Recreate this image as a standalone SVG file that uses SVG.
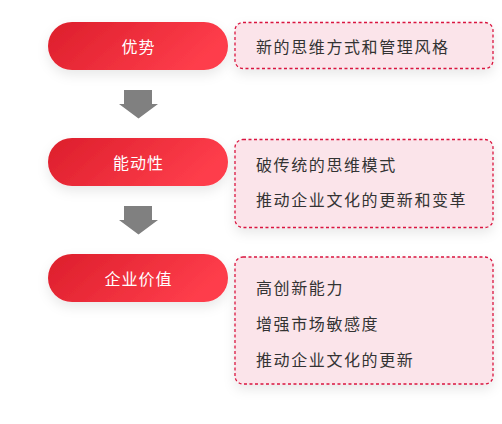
<svg xmlns="http://www.w3.org/2000/svg" width="502" height="424" viewBox="0 0 502 424">
<defs>
<linearGradient id="pillGrad" x1="0" y1="0" x2="1" y2="0.3">
<stop offset="0" stop-color="#dc1e2b"/>
<stop offset="1" stop-color="#fe3d4b"/>
</linearGradient>
<filter id="shadow" x="-20%" y="-40%" width="140%" height="200%">
<feDropShadow dx="0" dy="5" stdDeviation="6" flood-color="#000" flood-opacity="0.09"/>
</filter>
<style>
.pill{fill:url(#pillGrad);filter:url(#shadow);}
.pilltext{fill:#ffffff;font-family:"Noto Sans CJK SC","Noto Sans",sans-serif;font-size:16px;letter-spacing:1px;text-anchor:middle;dominant-baseline:central;}
.box{fill:#fbe4ea;stroke:#d9163f;stroke-width:1.3;stroke-dasharray:3 2.5;filter:url(#shadow);}
.boxtext{fill:#333333;font-family:"Noto Sans CJK SC","Noto Sans",sans-serif;font-size:16px;letter-spacing:1.6px;dominant-baseline:central;}
.arrow{fill:#808080;}
</style>
</defs>
<g id="connectors">
<path class="arrow" d="M124,90 H152 V104 H158 L138.5,118.5 L119,104 H124 Z"/>
<path class="arrow" d="M124,206 H152 V220 H158 L138.5,234.5 L119,220 H124 Z"/>
</g>
<g id="node-youshi">
<rect class="pill" x="48" y="22" width="180" height="48" rx="24"/>
<text class="pilltext" x="138.5" y="46">优势</text>
</g>
<g id="node-youshi-detail">
<rect class="box" x="235" y="22.5" width="258" height="46" rx="8"/>
<text class="boxtext" x="256" y="46">新的思维方式和管理风格</text>
</g>
<g id="node-nengdongxing">
<rect class="pill" x="48" y="138" width="180" height="48" rx="24"/>
<text class="pilltext" x="138.5" y="162">能动性</text>
</g>
<g id="node-nengdongxing-detail">
<rect class="box" x="235" y="139.5" width="258" height="88" rx="8"/>
<text class="boxtext" x="256" y="163.5">破传统的思维模式</text>
<text class="boxtext" x="256" y="199">推动企业文化的更新和变革</text>
</g>
<g id="node-qiyejiazhi">
<rect class="pill" x="48" y="254" width="180" height="48" rx="24"/>
<text class="pilltext" x="138.5" y="278">企业价值</text>
</g>
<g id="node-qiyejiazhi-detail">
<rect class="box" x="235" y="257" width="258" height="127" rx="8"/>
<text class="boxtext" x="256" y="286.5">高创新能力</text>
<text class="boxtext" x="256" y="322.5">增强市场敏感度</text>
<text class="boxtext" x="256" y="358.5">推动企业文化的更新</text>
</g>
</svg>
